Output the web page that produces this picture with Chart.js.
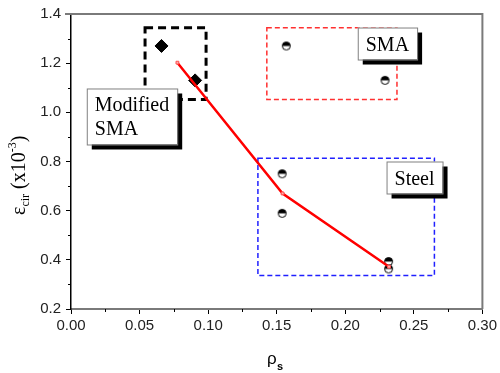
<!doctype html>
<html lang="en">
<head>
  <meta charset="utf-8">
  <title>Circumferential strain vs rho_s</title>
  <script src="https://cdn.jsdelivr.net/npm/chart.js"></script>
  <style>
    body { margin: 0; background: #fff; }
    #chart { display: block; }
  </style>
</head>
<body>
<canvas id="chart" width="500" height="373"></canvas>
<script>
// data
const msmaX = [0.066, 0.0905];
const msmaY = [1.27, 1.13];
const smaX = [0.157, 0.229];
const smaY = [1.27, 1.13];
const steelX = [0.154, 0.154, 0.2316, 0.2316];
const steelY = [0.75, 0.589, 0.393, 0.363];
const fitX = [0.0776, 0.1543, 0.2319];
const fitY = [1.202, 0.670, 0.372];

// group boxes (data units) and text labels
const groupBoxes = [
  { x0: 0.054, x1: 0.0985, y0: 1.052, y1: 1.344, color: '#000', width: 3, dash: [8, 5] },
  { x0: 0.1428, x1: 0.2377, y0: 1.052, y1: 1.344, color: '#ff3030', width: 1.5, dash: [5, 3] },
  { x0: 0.1363, x1: 0.265, y0: 0.336, y1: 0.8137, color: '#2020ff', width: 1.5, dash: [5, 3] }
];
const groupLabels = [
  { lines: ['Modified', 'SMA'], x: 0.0115, y: 1.097 },
  { lines: ['SMA'], x: 0.2091, y: 1.345 },
  { lines: ['Steel'], x: 0.2301, y: 0.8 }
];

function pts(xs, ys) { return xs.map((x, i) => ({ x: x, y: ys[i] })); }

// half filled circle marker
const half = document.createElement('canvas');
half.width = 11; half.height = 11;
(function () {
  const c = half.getContext('2d');
  c.beginPath(); c.arc(5.5, 5.5, 4, 0, Math.PI * 2); c.fillStyle = '#fff'; c.fill();
  c.beginPath(); c.arc(5.5, 5.5, 4, Math.PI, 0); c.closePath(); c.fillStyle = '#000'; c.fill();
  c.beginPath(); c.arc(5.5, 5.5, 4, 0, Math.PI * 2); c.lineWidth = 1; c.strokeStyle = '#000'; c.stroke();
})();

const decor = {
  id: 'decor',
  beforeDatasetsDraw(chart) {
    const ctx = chart.ctx, xs = chart.scales.x, ys = chart.scales.y;
    ctx.save();
    groupBoxes.forEach(b => {
      const l = xs.getPixelForValue(b.x0), r = xs.getPixelForValue(b.x1);
      const t = ys.getPixelForValue(b.y1), bt = ys.getPixelForValue(b.y0);
      ctx.strokeStyle = b.color; ctx.lineWidth = b.width; ctx.setLineDash(b.dash);
      ctx.strokeRect(l, t, r - l, bt - t);
    });
    ctx.restore();
  },
  afterDatasetsDraw(chart) {
    const ctx = chart.ctx, xs = chart.scales.x, ys = chart.scales.y, a = chart.chartArea;
    ctx.save();
    // label boxes with shadow
    ctx.font = '20px "Liberation Serif", "Times New Roman", serif';
    groupLabels.forEach(g => {
      const w = Math.max(...g.lines.map(s => ctx.measureText(s).width)) + 16;
      const h = g.lines.length * 24 + 8;
      const x = xs.getPixelForValue(g.x), y = ys.getPixelForValue(g.y);
      ctx.fillStyle = '#000';
      ctx.fillRect(x + 5, y + 5, w, h);
      ctx.fillStyle = '#fff';
      ctx.fillRect(x, y, w, h);
      ctx.strokeStyle = '#808080'; ctx.lineWidth = 1;
      ctx.strokeRect(x + 0.5, y + 0.5, w, h);
      ctx.fillStyle = '#000'; ctx.textBaseline = 'alphabetic';
      g.lines.forEach((s, i) => ctx.fillText(s, x + 8, y + 23 + i * 24));
    });
    // frame: top and right lines
    ctx.strokeStyle = '#7a7a7a'; ctx.lineWidth = 2;
    ctx.beginPath();
    ctx.moveTo(a.left - 6, a.top); ctx.lineTo(a.right, a.top); ctx.lineTo(a.right, a.bottom);
    ctx.stroke();
    // minor ticks
    ctx.strokeStyle = '#000'; ctx.lineWidth = 1;
    ctx.beginPath();
    for (let v = 0.025; v < 0.3; v += 0.05) {
      const px = Math.round(xs.getPixelForValue(v)) + 0.5;
      ctx.moveTo(px, a.bottom); ctx.lineTo(px, a.bottom + 3);
    }
    for (let v = 0.3; v < 1.4; v += 0.2) {
      const py = Math.round(ys.getPixelForValue(v)) + 0.5;
      ctx.moveTo(a.left, py); ctx.lineTo(a.left - 3, py);
    }
    ctx.stroke();
    // axis titles
    ctx.fillStyle = '#000';
    ctx.font = '17px "Liberation Sans", Arial, sans-serif';
    ctx.textBaseline = 'alphabetic';
    ctx.fillText('\u03c1', 267, 364);
    ctx.font = 'bold 11px "Liberation Sans", Arial, sans-serif';
    ctx.fillText('s', 277, 370);
    ctx.translate(25, 215);
    ctx.rotate(-Math.PI / 2);
    let cx = 0;
    const part = (s, font, dy) => { ctx.font = font; ctx.fillText(s, cx, dy); cx += ctx.measureText(s).width; };
    part('\u03b5', '20px "Liberation Serif", "Times New Roman", serif', 0);
    part('cir', '12px "Liberation Serif", "Times New Roman", serif', 4);
    part(' (x10', '20px "Liberation Serif", "Times New Roman", serif', 0);
    part('-3', '12px "Liberation Serif", "Times New Roman", serif', -9);
    part(')', '20px "Liberation Serif", "Times New Roman", serif', 0);
    ctx.restore();
  }
};

const tickFont = { family: '"Liberation Sans", Arial, sans-serif', size: 15 };

new Chart(document.getElementById('chart'), {
  type: 'scatter',
  data: {
    datasets: [
      { label: 'fit', data: pts(fitX, fitY), showLine: true, borderColor: '#ff0000', borderWidth: 2.5,
        pointStyle: 'rect', pointRadius: 2, pointBorderColor: '#ff5050', pointBackgroundColor: '#ffb0b0',
        pointBorderWidth: 1, order: 0 },
      { label: 'Modified SMA', data: pts(msmaX, msmaY), pointStyle: 'rectRot', pointRadius: 6.5,
        backgroundColor: '#000', borderColor: '#000', order: 1 },
      { label: 'SMA', data: pts(smaX, smaY), pointStyle: half, order: 1 },
      { label: 'Steel', data: pts(steelX, steelY), pointStyle: half, order: 1 }
    ]
  },
  options: {
    responsive: false,
    animation: false,
    layout: { padding: { top: 10, right: 16, left: 0, bottom: 0 } },
    plugins: { legend: { display: false }, tooltip: { enabled: false } },
    scales: {
      x: {
        type: 'linear', min: 0, max: 0.3,
        afterFit: s => { s.height = 64; },
        ticks: { stepSize: 0.05, font: tickFont, color: '#222', padding: 3,
                 callback: v => v.toFixed(2) },
        grid: { drawOnChartArea: false, tickLength: 5, color: '#000', tickWidth: 1 },
        border: { color: '#7a7a7a', width: 2 }
      },
      y: {
        type: 'linear', min: 0.2, max: 1.4,
        afterFit: s => { s.width = 71; },
        ticks: { stepSize: 0.2, font: tickFont, color: '#222', padding: 5,
                 callback: v => v.toFixed(1) },
        grid: { drawOnChartArea: false, tickLength: 5, color: '#000', tickWidth: 1 },
        border: { color: '#000', width: 1.5 }
      }
    }
  },
  plugins: [decor]
});
</script>
</body>
</html>
